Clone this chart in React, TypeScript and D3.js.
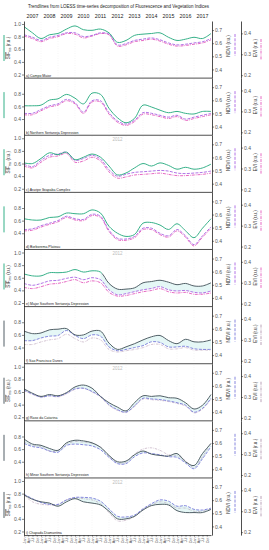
import { useEffect, useRef } from "react";
import * as d3 from "d3";

const FONT = "'Liberation Sans', Arial, sans-serif";
const W = 269;
const H = 550;
const marginLeft = 24;
const plotRight = 212;
const eviAxisX = 241;
const firstTop = 21;
const panelH = 57.12;

// half-year sample dates
const t = [2007, 2007.5, 2008, 2008.5, 2009, 2009.5, 2010, 2010.5, 2011, 2011.5, 2012, 2012.5,
  2013, 2013.5, 2014, 2014.5, 2015, 2015.5, 2016, 2016.5, 2017, 2017.5, 2018];
const years = [2007, 2008, 2009, 2010, 2011, 2012, 2013, 2014, 2015, 2016, 2017];
const months = ["Jan", "Apr", "Jul", "Oct"];

const panelNames = [
  "a) Campo Maior",
  "b) Northern Sertaneja Depression",
  "c) Araripe Ibiapaba Complex",
  "d) Borborema Plateau",
  "e) Major Southern Sertaneja Depression",
  "f) Sao Francisco Dunes",
  "g) Raso da Catarina",
  "h) Minor Southern Sertaneja Depression",
  "i) Chapada Diamantina",
];

const sifA = [0.96, 0.86, 0.77, 0.83, 0.85, 0.92, 0.97, 0.91, 0.9, 0.92, 0.86, 0.71, 0.74, 0.82, 0.84, 0.85, 0.86, 0.79, 0.74, 0.76, 0.79, 0.77, 0.85];
const ndviA = [0.664, 0.645, 0.621, 0.645, 0.659, 0.679, 0.679, 0.65, 0.659, 0.679, 0.669, 0.587, 0.597, 0.621, 0.631, 0.64, 0.626, 0.602, 0.587, 0.592, 0.602, 0.611, 0.635];
const eviA = [0.387, 0.375, 0.36, 0.375, 0.384, 0.399, 0.396, 0.378, 0.387, 0.399, 0.393, 0.339, 0.345, 0.36, 0.366, 0.372, 0.363, 0.348, 0.339, 0.342, 0.348, 0.354, 0.369];

const sifB = [0.61, 0.61, 0.62, 0.7, 0.72, 0.79, 0.73, 0.64, 0.81, 0.79, 0.57, 0.42, 0.34, 0.41, 0.62, 0.59, 0.54, 0.5, 0.52, 0.49, 0.48, 0.52, 0.52];
const ndviB = [0.501, 0.501, 0.53, 0.558, 0.573, 0.607, 0.582, 0.51, 0.597, 0.597, 0.506, 0.443, 0.419, 0.448, 0.506, 0.501, 0.486, 0.472, 0.486, 0.457, 0.472, 0.486, 0.501];
const eviB = [0.284, 0.284, 0.303, 0.321, 0.33, 0.351, 0.336, 0.29, 0.345, 0.345, 0.287, 0.248, 0.233, 0.251, 0.287, 0.284, 0.275, 0.266, 0.275, 0.257, 0.266, 0.275, 0.284];

const sifC = [0.61, 0.6, 0.68, 0.77, 0.74, 0.78, 0.66, 0.7, 0.75, 0.7, 0.56, 0.42, 0.45, 0.53, 0.6, 0.56, 0.61, 0.57, 0.51, 0.54, 0.51, 0.53, 0.59];
const ndviC = [0.549, 0.53, 0.578, 0.616, 0.626, 0.64, 0.578, 0.592, 0.616, 0.587, 0.506, 0.457, 0.472, 0.486, 0.491, 0.496, 0.501, 0.496, 0.481, 0.477, 0.481, 0.486, 0.496];
const eviC = [0.312, 0.303, 0.33, 0.354, 0.36, 0.372, 0.33, 0.336, 0.354, 0.336, 0.284, 0.254, 0.26, 0.269, 0.272, 0.275, 0.278, 0.272, 0.266, 0.266, 0.269, 0.272, 0.278];

const sifD = [0.63, 0.61, 0.61, 0.65, 0.66, 0.72, 0.71, 0.71, 0.77, 0.72, 0.51, 0.4, 0.35, 0.38, 0.56, 0.57, 0.53, 0.46, 0.55, 0.44, 0.33, 0.48, 0.63];
const ndviD = [0.486, 0.491, 0.515, 0.534, 0.554, 0.587, 0.568, 0.563, 0.602, 0.587, 0.481, 0.419, 0.414, 0.433, 0.496, 0.496, 0.457, 0.438, 0.486, 0.438, 0.371, 0.438, 0.506];
const eviD = [0.275, 0.278, 0.293, 0.306, 0.318, 0.339, 0.327, 0.324, 0.348, 0.339, 0.272, 0.233, 0.23, 0.242, 0.281, 0.281, 0.257, 0.245, 0.275, 0.245, 0.203, 0.245, 0.287];

const sifE = [0.66, 0.63, 0.63, 0.68, 0.68, 0.69, 0.73, 0.69, 0.71, 0.69, 0.51, 0.42, 0.42, 0.44, 0.52, 0.54, 0.56, 0.53, 0.49, 0.51, 0.47, 0.47, 0.52];
const ndviE = [0.51, 0.496, 0.51, 0.53, 0.534, 0.549, 0.558, 0.539, 0.554, 0.539, 0.462, 0.424, 0.433, 0.448, 0.462, 0.472, 0.486, 0.462, 0.453, 0.457, 0.443, 0.438, 0.453];
const eviE = [0.278, 0.272, 0.281, 0.293, 0.297, 0.306, 0.315, 0.3, 0.309, 0.3, 0.254, 0.236, 0.239, 0.248, 0.257, 0.263, 0.272, 0.257, 0.251, 0.254, 0.245, 0.245, 0.251];

const sifF = [0.66, 0.62, 0.63, 0.68, 0.69, 0.7, 0.6, 0.6, 0.66, 0.66, 0.47, 0.37, 0.41, 0.46, 0.52, 0.57, 0.59, 0.51, 0.46, 0.53, 0.49, 0.49, 0.52];
const ndviF = [0.51, 0.51, 0.53, 0.544, 0.549, 0.587, 0.549, 0.525, 0.554, 0.544, 0.462, 0.433, 0.443, 0.457, 0.472, 0.501, 0.496, 0.462, 0.462, 0.467, 0.448, 0.443, 0.443];
const eviF = [0.278, 0.278, 0.29, 0.3, 0.306, 0.327, 0.306, 0.29, 0.309, 0.3, 0.254, 0.242, 0.248, 0.254, 0.263, 0.278, 0.278, 0.257, 0.257, 0.263, 0.251, 0.251, 0.251];

const sifG = [0.65, 0.58, 0.53, 0.56, 0.54, 0.59, 0.68, 0.71, 0.66, 0.53, 0.43, 0.36, 0.3, 0.43, 0.54, 0.53, 0.54, 0.51, 0.5, 0.43, 0.33, 0.39, 0.56];
const ndviG = [0.568, 0.539, 0.515, 0.525, 0.52, 0.544, 0.578, 0.582, 0.558, 0.52, 0.457, 0.419, 0.4, 0.448, 0.506, 0.501, 0.496, 0.486, 0.472, 0.453, 0.4, 0.429, 0.506];
const eviG = [0.33, 0.312, 0.3, 0.306, 0.3, 0.315, 0.336, 0.342, 0.324, 0.3, 0.26, 0.236, 0.227, 0.254, 0.29, 0.287, 0.284, 0.278, 0.269, 0.257, 0.224, 0.242, 0.29];

const sifH = [0.76, 0.68, 0.66, 0.61, 0.58, 0.7, 0.74, 0.73, 0.7, 0.63, 0.5, 0.4, 0.41, 0.51, 0.57, 0.52, 0.5, 0.49, 0.53, 0.4, 0.34, 0.53, 0.69];
const ndviH = [0.597, 0.573, 0.563, 0.539, 0.53, 0.582, 0.592, 0.587, 0.578, 0.549, 0.491, 0.443, 0.443, 0.496, 0.525, 0.52, 0.51, 0.496, 0.491, 0.448, 0.404, 0.481, 0.573];
const eviH = [0.36, 0.342, 0.336, 0.315, 0.315, 0.348, 0.36, 0.357, 0.351, 0.333, 0.29, 0.26, 0.26, 0.3, 0.324, 0.33, 0.318, 0.297, 0.293, 0.269, 0.236, 0.287, 0.354];

const sifI = [0.78, 0.71, 0.67, 0.65, 0.6, 0.67, 0.72, 0.67, 0.65, 0.62, 0.52, 0.4, 0.4, 0.44, 0.54, 0.61, 0.63, 0.62, 0.53, 0.5, 0.5, 0.5, 0.55];
const ndviI = [0.645, 0.611, 0.582, 0.568, 0.568, 0.602, 0.621, 0.621, 0.616, 0.592, 0.534, 0.477, 0.472, 0.486, 0.534, 0.573, 0.602, 0.592, 0.554, 0.558, 0.53, 0.525, 0.539];
const eviI = [0.378, 0.345, 0.333, 0.33, 0.33, 0.354, 0.363, 0.36, 0.354, 0.336, 0.293, 0.254, 0.257, 0.275, 0.309, 0.33, 0.345, 0.336, 0.315, 0.315, 0.3, 0.3, 0.312];

const sifs = [sifA, sifB, sifC, sifD, sifE, sifF, sifG, sifH, sifI];
const ndvis = [ndviA, ndviB, ndviC, ndviD, ndviE, ndviF, ndviG, ndviH, ndviI];
const evis = [eviA, eviB, eviC, eviD, eviE, eviF, eviG, eviH, eviI];

// year up to which the SIF line is drawn green (after it turns slate)
const sifGreenUntil = [2018, 2018, 2018, 2018, 2011.6, 2007, 2007, 2007, 2007];
// start of the light cyan band between SIF and NDVI
const bandFrom = [null, null, null, null, 2011.5, 2007, 2007, 2007, 2007];

const sifTicksFull = [0.2, 0.4, 0.6, 0.8, 1.0];
const sifTicksShort = [0.4, 0.6, 0.8];
const ndviTicks = [0.4, 0.5, 0.6, 0.7];
const eviTicks = [0.2, 0.3, 0.4];

const green = "#1ea77a";
const slate = "#3e4d55";

export default function App() {
  const ref = useRef<SVGSVGElement>(null);

  const x = d3.scaleLinear().domain([2007, 2018]).range([marginLeft, 211]);
  const quarters = d3.range(2007, 2018, 0.25);

  const panels = panelNames.map((name, i) => {
    const top = firstTop + i * panelH;
    const bottom = top + panelH;
    return {
      name,
      i,
      top,
      bottom,
      late: i >= 5,
      ySif: d3.scaleLinear().domain([0.143, 1.048]).range([bottom, top]),
      yNdvi: d3.scaleLinear().domain([0.334, 0.769]).range([bottom, top]),
      yEvi: d3.scaleLinear().domain([0.186, 0.459]).range([bottom, top]),
    };
  });

  useEffect(() => {
    const svg = d3.select(ref.current);
    const style = (g: any) => {
      g.attr("font-size", 5).attr("font-family", FONT);
      g.selectAll("text").attr("fill", "#555");
      g.selectAll("line").attr("stroke", "#333").attr("stroke-width", 0.6);
      g.select(".domain").attr("stroke", "#222").attr("stroke-width", 0.8);
    };
    panels.forEach((p) => {
      svg
        .select(`.y-sif-${p.i}`)
        .call(
          d3.axisLeft(p.ySif)
            .tickValues(p.i % 2 === 0 ? sifTicksFull : sifTicksShort)
            .tickFormat(d3.format(".1f"))
            .tickSize(2)
            .tickSizeOuter(0)
            .tickPadding(1) as any
        )
        .call(style);
      svg
        .select(`.y-ndvi-${p.i}`)
        .call(
          d3.axisRight(p.yNdvi).tickValues(ndviTicks).tickFormat(d3.format(".1f")).tickSize(2).tickSizeOuter(0).tickPadding(1) as any
        )
        .call(style);
      svg
        .select(`.y-evi-${p.i}`)
        .call(
          d3.axisRight(p.yEvi).tickValues(eviTicks).tickFormat(d3.format(".1f")).tickSize(2).tickSizeOuter(0).tickPadding(1) as any
        )
        .call(style);
    });
    const xg = svg.select(".x-axis");
    xg.call(
      d3.axisBottom(x)
        .tickValues(quarters)
        .tickFormat((d: any) => months[Math.round((d - Math.floor(d)) * 4) % 4])
        .tickSize(1.5)
        .tickSizeOuter(0) as any
    ).call(style);
    xg.selectAll("text")
      .attr("font-size", 3.6)
      .attr("transform", "rotate(-90)")
      .attr("text-anchor", "end")
      .attr("x", -2.5)
      .attr("y", 0)
      .attr("dy", "0.35em");
  }, []);

  return (
    <svg
      ref={ref}
      width={W}
      height={H}
      viewBox={`0 0 ${W} ${H}`}
      style={{ position: "absolute", left: 0, top: 0, background: "#fff" }}
      fontFamily={FONT}
    >
      <text x={118.5} y={8} fontSize={4.5} textAnchor="middle" fill="#222">
        Trendlines from LOESS time-series decomposition of Fluorescence and Vegetation Indices
      </text>
      {years.map((yr) => (
        <text key={yr} x={x(yr + 0.5)} y={18} fontSize={5.3} textAnchor="middle" fill="#222">
          {yr}
        </text>
      ))}
      <defs>
        {panels.map((p) => {
          const stop = Math.max(0, Math.min(1, (x(sifGreenUntil[p.i]) - marginLeft) / (plotRight - marginLeft)));
          return (
            <linearGradient key={p.i} id={`sifgrad-${p.i}`} gradientUnits="userSpaceOnUse" x1={marginLeft} x2={plotRight} y1={0} y2={0}>
              <stop offset={stop} stopColor={green} />
              <stop offset={stop} stopColor={slate} />
            </linearGradient>
          );
        })}
      </defs>
      {panels.map((p) => {
        const sif = sifs[p.i];
        const ndvi = ndvis[p.i];
        const evi = evis[p.i];
        const curve = d3.curveCatmullRom;
        const sifLine = d3.line<number>().x((_, k) => x(t[k])).y((d) => p.ySif(d)).curve(curve);
        const ndviLine = d3.line<number>().x((_, k) => x(t[k])).y((d) => p.yNdvi(d)).curve(curve);
        const eviLine = d3.line<number>().x((_, k) => x(t[k])).y((d) => p.yEvi(d)).curve(curve);
        const bf = bandFrom[p.i];
        const bandIdx = bf === null ? [] : t.map((_, k) => k).filter((k) => t[k] >= bf);
        const band = d3
          .area<number>()
          .x((k) => x(t[k]))
          .y0((k) => p.ySif(sif[k]))
          .y1((k) => p.yNdvi(ndvi[k]))
          .curve(curve);
        const ndviColor = p.late ? "#6b6bd6" : "#a052e0";
        const eviColor = p.late ? "#a88aa6" : "#e044b4";
        const legendSif = p.i <= 4 ? green : slate;
        const midY = p.top + 27;
        return (
          <g key={p.i}>
            {years.slice(1).map((yr) => (
              <line key={yr} x1={x(yr)} x2={x(yr)} y1={p.top + 1} y2={p.bottom - 1} stroke="#e2e2e2" strokeWidth={0.4} strokeDasharray="0.8,1.6" />
            ))}
            {bandIdx.length > 0 && <path d={band(bandIdx) ?? ""} fill="#dff5f4" opacity={0.8} />}
            <path d={eviLine(evi) ?? ""} fill="none" stroke={eviColor} strokeWidth={p.late ? 0.5 : 0.8} strokeDasharray={p.late ? "2.5,1,0.6,1" : "3,1,0.8,1"} />
            <path d={ndviLine(ndvi) ?? ""} fill="none" stroke={ndviColor} strokeWidth={0.8} strokeDasharray="3,1.3" />
            <path d={sifLine(sif) ?? ""} fill="none" stroke={`url(#sifgrad-${p.i})`} strokeWidth={0.9} />
            {p.i > 1 && p.i % 2 === 0 && (
              <text x={x(2012.5)} y={p.top + 6} fontSize={4.5} textAnchor="middle" fill="#bbb">2012</text>
            )}
            <text x={marginLeft + 2} y={p.bottom - 1.5} fontSize={3.5} fill="#222">{p.name}</text>
            {p.i < 8 && (
              <line x1={marginLeft} x2={plotRight} y1={p.bottom} y2={p.bottom} stroke="#222" strokeWidth={0.8} />
            )}
            <g className={`y-sif-${p.i}`} transform={`translate(${marginLeft},0)`} />
            <g className={`y-ndvi-${p.i}`} transform={`translate(${plotRight},0)`} />
            <g className={`y-evi-${p.i}`} transform={`translate(${eviAxisX},0)`} />
            {/* axis titles with line keys */}
            <line x1={4} x2={4} y1={midY - 13} y2={midY + 13} stroke={legendSif} strokeWidth={0.9} />
            {p.i % 2 === 0 && (
              <text transform={`translate(9.5,${midY}) rotate(-90)`} fontSize={4.6} textAnchor="middle" fill="#333">
                <tspan style={{ textDecoration: "overline" }}>SIF</tspan>
                <tspan dy={1.2} fontSize={3.4}>ms</tspan>
                <tspan dy={-1.2}> (r.u.)</tspan>
              </text>
            )}
            {p.i !== 7 && (
              <text transform={`translate(229.5,${midY - 2}) rotate(-90)`} fontSize={4.6} textAnchor="middle" fill="#333">
                NDVI (r.u.)
              </text>
            )}
            <line x1={235} x2={235} y1={midY - 14} y2={midY + 8} stroke={ndviColor} strokeWidth={0.8} strokeDasharray="3,1.3" />
            <text transform={`translate(256.5,${midY}) rotate(-90)`} fontSize={4.6} textAnchor="middle" fill="#333">
              EVI (r.u.)
            </text>
            <line x1={261} x2={261} y1={midY - 9} y2={midY + 12} stroke={eviColor} strokeWidth={0.8} strokeDasharray="3,1,0.8,1" />
          </g>
        );
      })}
      <g className="x-axis" transform={`translate(0,${firstTop + 9 * panelH})`} />
    </svg>
  );
}
